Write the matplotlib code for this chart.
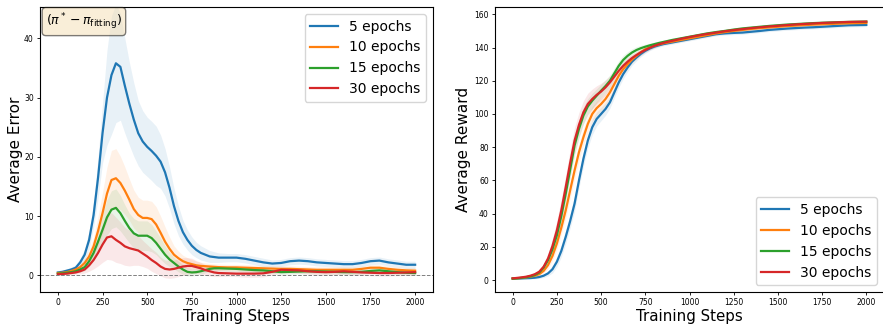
import numpy as np
import matplotlib.pyplot as plt

# finer sampling where curves change fast, coarser afterwards
steps = list(range(0, 900, 25)) + list(range(900, 2001, 50))
labels = ["5 epochs", "10 epochs", "15 epochs", "30 epochs"]
colors = ["tab:blue", "tab:orange", "tab:green", "tab:red"]

# left panel: average error (mean, std)
err_5 = [0.5, 0.6, 0.8, 1.0, 1.3, 2.2, 3.5, 6.0, 10.2, 16.5, 24.0, 30.0, 33.8, 35.8, 35.2, 32.0, 29.0,
         26.3, 24.0, 22.6, 21.7, 21.0, 20.2, 19.2, 17.4, 14.8, 11.7, 9.2, 7.3, 6.0, 5.0, 4.3, 3.8, 3.5,
         3.2, 3.1,
         3.0, 3.0, 3.0, 2.8, 2.5, 2.2, 2.0, 2.1, 2.4, 2.5, 2.4, 2.2, 2.1, 2.0, 1.9, 1.9, 2.1, 2.4, 2.5,
         2.2, 2.0, 1.8, 1.8]
err_10 = [0.4, 0.45, 0.55, 0.75, 1.0, 1.4, 2.1, 3.2, 4.9, 7.5, 10.5, 13.8, 16.1, 16.4, 15.6, 14.3, 12.8,
          11.2, 10.2, 9.7, 9.7, 9.5, 8.6, 7.2, 5.7, 4.5, 3.5, 2.9, 2.4, 2.1, 1.9, 1.7, 1.6, 1.55, 1.5,
          1.45,
          1.4, 1.35, 1.35, 1.3, 1.25, 1.2, 1.15, 1.1, 1.1, 1.05, 1.0, 0.95, 0.95, 0.95, 0.95, 0.95, 1.1,
          1.3, 1.3, 1.1, 0.95, 0.85, 0.8]
err_15 = [0.3, 0.35, 0.45, 0.55, 0.7, 1.0, 1.4, 2.4, 3.8, 5.7, 7.7, 9.8, 11.1, 11.4, 10.5, 9.2, 8.0, 7.1,
          6.7, 6.7, 6.7, 6.3, 5.5, 4.5, 3.5, 2.7, 2.1, 1.5, 1.0, 0.6, 0.5, 0.55, 0.7, 0.9, 1.1, 1.2,
          1.2, 1.15, 1.1, 1.0, 0.9, 0.85, 0.7, 0.55, 0.6, 0.65, 0.7, 0.7, 0.65, 0.6, 0.55, 0.55, 0.6,
          0.75, 0.85, 0.7, 0.55, 0.45, 0.4]
err_30 = [0.2, 0.25, 0.3, 0.4, 0.5, 0.7, 1.0, 1.7, 2.6, 3.8, 5.2, 6.4, 6.6, 6.0, 5.5, 4.9, 4.6, 4.4, 4.2,
          3.7, 3.2, 2.6, 2.1, 1.5, 1.1, 1.0, 1.1, 1.3, 1.5, 1.6, 1.6, 1.4, 1.2, 0.9, 0.7, 0.5,
          0.4, 0.35, 0.3, 0.3, 0.3, 0.35, 0.6, 0.95, 0.9, 0.85, 0.7, 0.6, 0.55, 0.6, 0.7, 0.6, 0.5,
          0.45, 0.4, 0.4, 0.45, 0.5, 0.55]
err_sd_5 = [0.2, 0.25, 0.3, 0.4, 0.5, 0.7, 1.0, 1.5, 2.0, 3.5, 5.0, 8.0, 10.0, 10.0, 9.0, 8.0, 7.0, 6.2,
            5.5, 5.2, 5.0, 5.0, 5.0, 4.5, 4.0, 3.5, 3.0, 2.5, 2.0, 1.7, 1.5, 1.3, 1.2, 1.1, 1.0, 0.9,
            0.8, 0.7, 0.7, 0.7, 0.7, 0.7, 0.6, 0.6, 0.6, 0.6, 0.6, 0.6, 0.6, 0.6, 0.6, 0.6, 0.6, 0.6,
            0.6, 0.6, 0.6, 0.6, 0.6]
err_sd_10 = [0.2, 0.25, 0.3, 0.35, 0.4, 0.6, 0.8, 1.1, 1.5, 2.5, 3.5, 4.5, 5.0, 5.0, 4.5, 4.0, 3.5, 3.2,
             3.0, 3.0, 3.0, 3.0, 3.0, 2.8, 2.5, 2.0, 1.5, 1.2, 1.0, 0.9, 0.8, 0.7, 0.6, 0.55, 0.5, 0.5,
             0.5, 0.5, 0.5, 0.5, 0.5, 0.5, 0.5, 0.5, 0.5, 0.5, 0.5, 0.5, 0.5, 0.5, 0.5, 0.5, 0.5, 0.5,
             0.5, 0.5, 0.5, 0.5, 0.5]
err_sd_15 = [0.2, 0.2, 0.2, 0.25, 0.3, 0.45, 0.6, 0.9, 1.2, 1.8, 2.5, 3.0, 3.2, 3.2, 3.0, 2.7, 2.5, 2.5,
             2.5, 2.5, 2.5, 2.3, 2.0, 1.8, 1.5, 1.2, 1.0, 0.9, 0.8, 0.7, 0.6, 0.55, 0.5, 0.45, 0.4, 0.4,
             0.4, 0.4, 0.4, 0.4, 0.4, 0.4, 0.4, 0.4, 0.4, 0.4, 0.4, 0.4, 0.4, 0.4, 0.4, 0.4, 0.4, 0.4,
             0.4, 0.4, 0.4, 0.4, 0.4]
err_sd_30 = [0.2, 0.2, 0.2, 0.25, 0.3, 0.45, 0.6, 1.0, 1.5, 2.2, 3.0, 3.7, 4.0, 3.8, 3.5, 3.2, 3.0, 2.7,
             2.5, 2.2, 2.0, 1.9, 1.8, 1.6, 1.5, 1.5, 1.5, 1.5, 1.5, 1.4, 1.3, 1.1, 1.0, 0.9, 0.8, 0.7,
             0.6, 0.5, 0.5, 0.6, 0.6, 0.6, 0.5, 0.5, 0.5, 0.5, 0.5, 0.5, 0.5, 0.5, 0.5, 0.5, 0.5, 0.5,
             0.5, 0.5, 0.5, 0.5, 0.5]

# right panel: average reward (mean, std)
rew_5 = [1.0, 1.0, 1.0, 1.1, 1.2, 1.4, 1.8, 2.6, 4.0, 6.5, 11.0, 17.5, 26.0, 35.5, 46.0, 60.0, 73.0,
         84.0, 92.0, 97.0, 100.0, 103.0, 107.0, 113.0, 119.0, 124.0, 128.0, 131.5, 134.0, 136.2, 138.0,
         139.4, 140.5, 141.3, 142.0, 142.5,
         143.0, 144.0, 145.0, 146.0, 147.0, 148.0, 148.5, 148.8, 149.0, 149.5, 150.0, 150.6, 151.0,
         151.4, 151.7, 152.0, 152.2, 152.5, 152.8, 153.1, 153.4, 153.5, 153.6]
rew_10 = [1.0, 1.1, 1.3, 1.6, 2.0, 2.6, 3.5, 5.5, 9.0, 14.5, 22.0, 31.5, 42.0, 54.0, 66.0, 77.0, 86.0,
          94.0, 100.0, 103.5, 106.0, 109.0, 113.0, 118.0, 123.0, 127.0, 130.0, 132.8, 135.0, 137.2,
          139.0, 140.1, 141.0, 141.8, 142.5, 143.0,
          143.5, 144.5, 145.5, 146.5, 147.5, 148.5, 149.3, 150.0, 150.6, 151.2, 151.7, 152.1, 152.5,
          152.9, 153.2, 153.5, 153.8, 154.0, 154.2, 154.4, 154.6, 154.7, 154.8]
rew_15 = [0.8, 1.0, 1.3, 1.7, 2.2, 3.0, 4.5, 7.5, 12.0, 18.5, 27.0, 38.5, 52.0, 66.5, 81.0, 91.0, 99.0,
          104.5, 108.0, 111.0, 114.0, 116.8, 120.0, 124.5, 129.0, 132.5, 135.0, 137.0, 138.5, 139.6,
          140.5, 141.3, 142.0, 142.7, 143.3, 143.9,
          144.5, 145.5, 146.5, 147.5, 148.5, 149.3, 150.0, 150.8, 151.5, 152.0, 152.5, 153.0, 153.4,
          153.8, 154.1, 154.4, 154.7, 154.9, 155.1, 155.3, 155.4, 155.5, 155.6]
rew_30 = [1.0, 1.3, 1.6, 2.0, 2.6, 3.5, 5.0, 8.0, 13.0, 20.5, 30.0, 42.0, 56.0, 70.5, 84.0, 93.5, 101.0,
          106.0, 109.0, 111.5, 113.5, 116.0, 119.0, 122.5, 126.0, 129.0, 131.5, 133.7, 135.5, 137.1,
          138.5, 139.8, 141.0, 141.9, 142.7, 143.4,
          144.0, 145.2, 146.3, 147.3, 148.2, 149.0, 149.8, 150.5, 151.1, 151.7, 152.2, 152.7, 153.1,
          153.5, 153.9, 154.2, 154.5, 154.8, 155.0, 155.2, 155.4, 155.5, 155.6]
rew_sd_5 = [0.5, 0.5, 0.5, 0.55, 0.6, 0.7, 0.8, 1.1, 1.5, 2.2, 3.0, 3.5, 4.0, 4.2, 4.5, 4.5, 4.5, 4.5,
            4.5, 4.2, 4.0, 3.8, 3.5, 3.2, 3.0, 2.8, 2.5, 2.2, 2.0, 1.7, 1.5, 1.3, 1.2, 1.1, 1.0, 1.0,
            1.0, 1.0, 1.0, 1.0, 1.0, 1.0, 1.0, 1.0, 1.0, 1.0, 1.0, 1.0, 1.0, 1.0, 1.0, 1.0, 1.0, 1.0,
            1.0, 1.0, 1.0, 1.0, 1.0]
rew_sd_10 = [0.5, 0.5, 0.5, 0.55, 0.6, 0.75, 0.9, 1.3, 2.0, 2.8, 3.5, 4.0, 4.5, 4.8, 5.0, 5.0, 5.0, 4.8,
             4.5, 4.2, 4.0, 3.8, 3.5, 3.2, 3.0, 2.8, 2.5, 2.2, 2.0, 1.7, 1.5, 1.3, 1.2, 1.1, 1.0, 1.0,
             1.0, 1.0, 1.0, 1.0, 1.0, 1.0, 1.0, 1.0, 1.0, 1.0, 1.0, 1.0, 1.0, 1.0, 1.0, 1.0, 1.0, 1.0,
             1.0, 1.0, 1.0, 1.0, 1.0]
rew_sd_15 = [0.5, 0.5, 0.5, 0.55, 0.6, 0.75, 0.9, 1.3, 2.0, 3.0, 4.0, 4.5, 5.0, 5.3, 5.5, 5.3, 5.0, 4.8,
             4.5, 4.2, 4.0, 3.8, 3.5, 3.2, 3.0, 2.8, 2.5, 2.2, 2.0, 1.7, 1.5, 1.3, 1.2, 1.1, 1.0, 1.0,
             1.0, 1.0, 1.0, 1.0, 1.0, 1.0, 1.0, 1.0, 1.0, 1.0, 1.0, 1.0, 1.0, 1.0, 1.0, 1.0, 1.0, 1.0,
             1.0, 1.0, 1.0, 1.0, 1.0]
rew_sd_30 = [0.5, 0.55, 0.6, 0.7, 0.8, 1.0, 1.2, 2.0, 3.0, 4.5, 6.0, 7.0, 7.5, 8.0, 8.0, 7.5, 7.0, 6.5,
             6.0, 5.5, 5.0, 4.5, 4.0, 3.5, 3.0, 2.8, 2.5, 2.2, 2.0, 1.7, 1.5, 1.3, 1.2, 1.1, 1.0, 1.0,
             1.0, 1.0, 1.0, 1.0, 1.0, 1.0, 1.0, 1.0, 1.0, 1.0, 1.0, 1.0, 1.0, 1.0, 1.0, 1.0, 1.0, 1.0,
             1.0, 1.0, 1.0, 1.0, 1.0]

err_means = [err_5, err_10, err_15, err_30]
err_sds = [err_sd_5, err_sd_10, err_sd_15, err_sd_30]
rew_means = [rew_5, rew_10, rew_15, rew_30]
rew_sds = [rew_sd_5, rew_sd_10, rew_sd_15, rew_sd_30]

fig = plt.figure(figsize=(8.83, 3.26), dpi=100)
ax1 = fig.add_axes([40 / 883, 34 / 326, 393 / 883, 285 / 326])
ax2 = fig.add_axes([495 / 883, 34 / 326, 389 / 883, 285 / 326])

for ax, means, sds in [(ax1, err_means, err_sds), (ax2, rew_means, rew_sds)]:
    for m, s, c, lab in zip(means, sds, colors, labels):
        m = np.array(m)
        s = np.array(s)
        ax.fill_between(steps, m - s, m + s, color=c, alpha=0.1, linewidth=0)
        ax.plot(steps, m, color=c, lw=1.6, label=lab)
    ax.set_xlim(-100, 2100)
    ax.set_xticks([0, 250, 500, 750, 1000, 1250, 1500, 1750, 2000])
    ax.tick_params(labelsize=5.5, length=2.5, width=0.6, pad=2)
    ax.set_xlabel("Training Steps", fontsize=10.8, labelpad=1)

ax1.axhline(0, color="gray", ls="--", lw=0.7)
ax1.set_ylim(-2.8, 45.3)
ax1.set_yticks([0, 10, 20, 30, 40])
ax1.set_ylabel("Average Error", fontsize=11, labelpad=1)
ax1.legend(loc="upper right", fontsize=10)
ax1.text(0.015, 0.985, r"$(\pi^* - \pi_{\mathrm{fitting}})$", transform=ax1.transAxes, fontsize=9,
         va="top", ha="left", bbox=dict(boxstyle="round", facecolor="wheat", alpha=0.5))

ax2.set_ylim(-7.2, 164.4)
ax2.set_yticks([0, 20, 40, 60, 80, 100, 120, 140, 160])
ax2.set_ylabel("Average Reward", fontsize=11, labelpad=2)
ax2.legend(loc="lower right", fontsize=10)

plt.savefig("out.png", dpi=100)
